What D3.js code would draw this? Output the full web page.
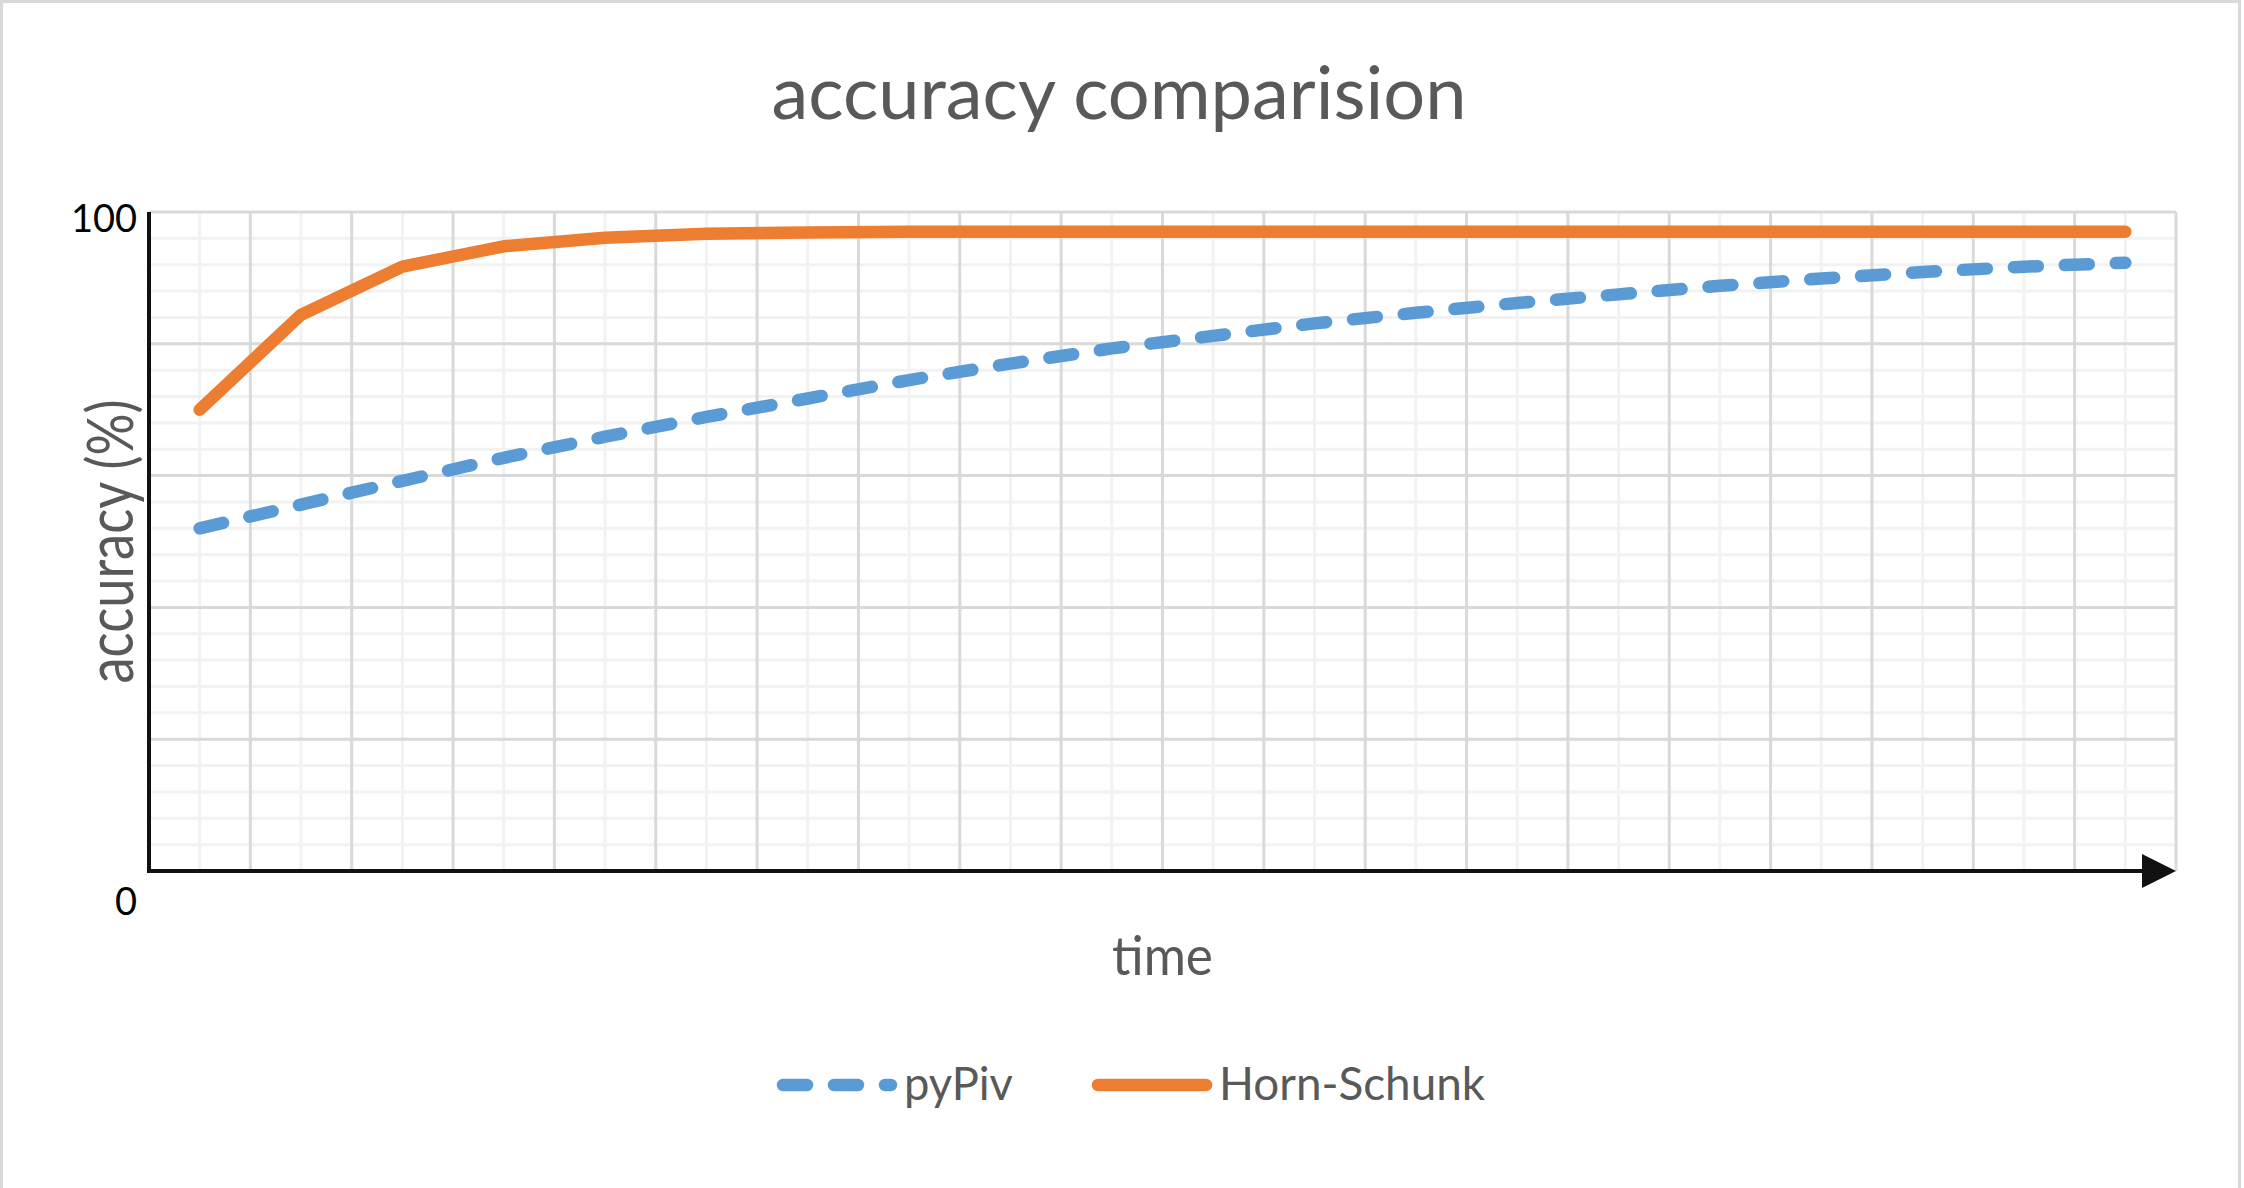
<!DOCTYPE html>
<html>
<head>
<meta charset="utf-8">
<script src="https://cdn.jsdelivr.net/npm/d3@7"></script>
<style>
  html, body { margin: 0; padding: 0; background: #fff; }
  svg { display: block; }
  text { font-family: Lato, "Open Sans", sans-serif; }
</style>
</head>
<body>
<svg id="chart" width="2244" height="1188"></svg>
<script>
// ---- data ----
const categories = d3.range(1, 21);
const pyPiv = [52.0, 55.6, 59.2, 62.7, 65.9, 68.9, 71.7, 74.5, 77.0, 79.3,
               81.2, 83.1, 84.7, 86.2, 87.5, 88.8, 89.9, 90.9, 91.7, 92.3];
const hornSchunk = [70.0, 84.4, 91.7, 94.8, 96.1, 96.7, 96.9, 97.0, 97.0, 97.0,
                    97.0, 97.0, 97.0, 97.0, 97.0, 97.0, 97.0, 97.0, 97.0, 97.0];
const yTickLabels = [0, 100];
const seriesNames = ["pyPiv", "Horn-Schunk"];
const titleText = "accuracy comparision";
const xTitle = "time";
const yTitle = "accuracy (%)";

// ---- layout ----
const pL = 149, pR = 2176, pT = 212, pB = 871;
const svg = d3.select("#chart");

const x = d3.scaleBand().domain(categories).range([pL, pR]).padding(0);
const y = d3.scaleLinear().domain([0, 100]).range([pB, pT]);

const gridMajor = "#d9d9d9", gridMinor = "#f2f2f2";
const blue = "#5B9BD5", orange = "#ED7D31", textGray = "#595959";

// chart border
svg.append("rect").attr("x", 1.5).attr("y", 1.5).attr("width", 2238).attr("height", 1200)
  .attr("fill", "none").attr("stroke", gridMajor).attr("stroke-width", 3);

// keep a Calibri-like look: size set by glyph height, width matched to the reference
function fit(sel, target) {
  sel.attr("textLength", target).attr("lengthAdjust", "spacingAndGlyphs");
}

// ---- grid ----
const grid = svg.append("g");
grid.selectAll(".hmin").data(d3.range(0, 101, 4).filter(v => v % 20 !== 0)).join("line")
  .attr("x1", pL).attr("x2", pR).attr("y1", d => y(d)).attr("y2", d => y(d))
  .attr("stroke", gridMinor).attr("stroke-width", 3);
grid.selectAll(".vmin").data(categories).join("line")
  .attr("x1", d => x(d) + x.bandwidth() / 2).attr("x2", d => x(d) + x.bandwidth() / 2)
  .attr("y1", pT).attr("y2", pB)
  .attr("stroke", gridMinor).attr("stroke-width", 3);
grid.selectAll(".hmaj").data(d3.range(20, 101, 20)).join("line")
  .attr("x1", pL).attr("x2", pR).attr("y1", d => y(d)).attr("y2", d => y(d))
  .attr("stroke", gridMajor).attr("stroke-width", 3);
const bounds = categories.slice(1).map(c => x(c)).concat([pR]);
grid.selectAll(".vmaj").data(bounds).join("line")
  .attr("x1", d => d).attr("x2", d => d).attr("y1", pT).attr("y2", pB)
  .attr("stroke", gridMajor).attr("stroke-width", 3);

// ---- axes ----
svg.append("line").attr("x1", pL).attr("x2", pL).attr("y1", pT).attr("y2", pB + 2)
  .attr("stroke", "#111").attr("stroke-width", 4);
svg.append("line").attr("x1", pL - 2).attr("x2", pR - 30).attr("y1", pB).attr("y2", pB)
  .attr("stroke", "#111").attr("stroke-width", 4);
svg.append("path")
  .attr("d", `M${pR},${pB} L${pR - 34},${pB - 17} L${pR - 34},${pB + 17} Z`)
  .attr("fill", "#111");

// y tick labels
svg.selectAll(".ytl").data(yTickLabels).join("text")
  .attr("x", pL - 12)
  .attr("y", d => d === 100 ? y(d) + 20 : y(d) + 44)
  .attr("text-anchor", "end").attr("font-size", 38).attr("fill", "#000")
  .text(d => d);

// ---- lines ----
const line = d3.line().x((d, i) => x(categories[i]) + x.bandwidth() / 2).y(d => y(d));
svg.append("path").datum(pyPiv).attr("d", line)
  .attr("fill", "none").attr("stroke", blue).attr("stroke-width", 12.5)
  .attr("stroke-linecap", "round").attr("stroke-linejoin", "round")
  .attr("stroke-dasharray", "24,27");
svg.append("path").datum(hornSchunk).attr("d", line)
  .attr("fill", "none").attr("stroke", orange).attr("stroke-width", 12.5)
  .attr("stroke-linecap", "round").attr("stroke-linejoin", "round");

// ---- titles ----
const t = svg.append("text").attr("x", 1119).attr("y", 119).attr("text-anchor", "middle")
  .attr("font-size", 73).attr("fill", textGray).text(titleText);
fit(t, 695);

const yt = svg.append("text").attr("transform", `translate(133,${(pT + pB) / 2}) rotate(-90)`)
  .attr("text-anchor", "middle").attr("font-size", 64).attr("fill", textGray).text(yTitle);
fit(yt, 284);

const xt = svg.append("text").attr("x", (pL + pR) / 2).attr("y", 975).attr("text-anchor", "middle")
  .attr("font-size", 55).attr("fill", textGray).text(xTitle);
fit(xt, 101);

// ---- legend ----
const legend = [
  { name: seriesNames[0], color: blue, dash: "24,27", x0: 777, tx: 904, tw: 109 },
  { name: seriesNames[1], color: orange, dash: null, x0: 1092, tx: 1219, tw: 266 }
];
legend.forEach(l => {
  svg.append("line").attr("x1", l.x0 + 6).attr("x2", l.x0 + 114).attr("y1", 1085).attr("y2", 1085)
    .attr("stroke", l.color).attr("stroke-width", 12.5).attr("stroke-linecap", "round")
    .attr("stroke-dasharray", l.dash);
  const lt = svg.append("text").attr("x", l.tx).attr("y", 1100).attr("font-size", 46)
    .attr("fill", textGray).text(l.name);
  fit(lt, l.tw);
});
</script>
</body>
</html>
